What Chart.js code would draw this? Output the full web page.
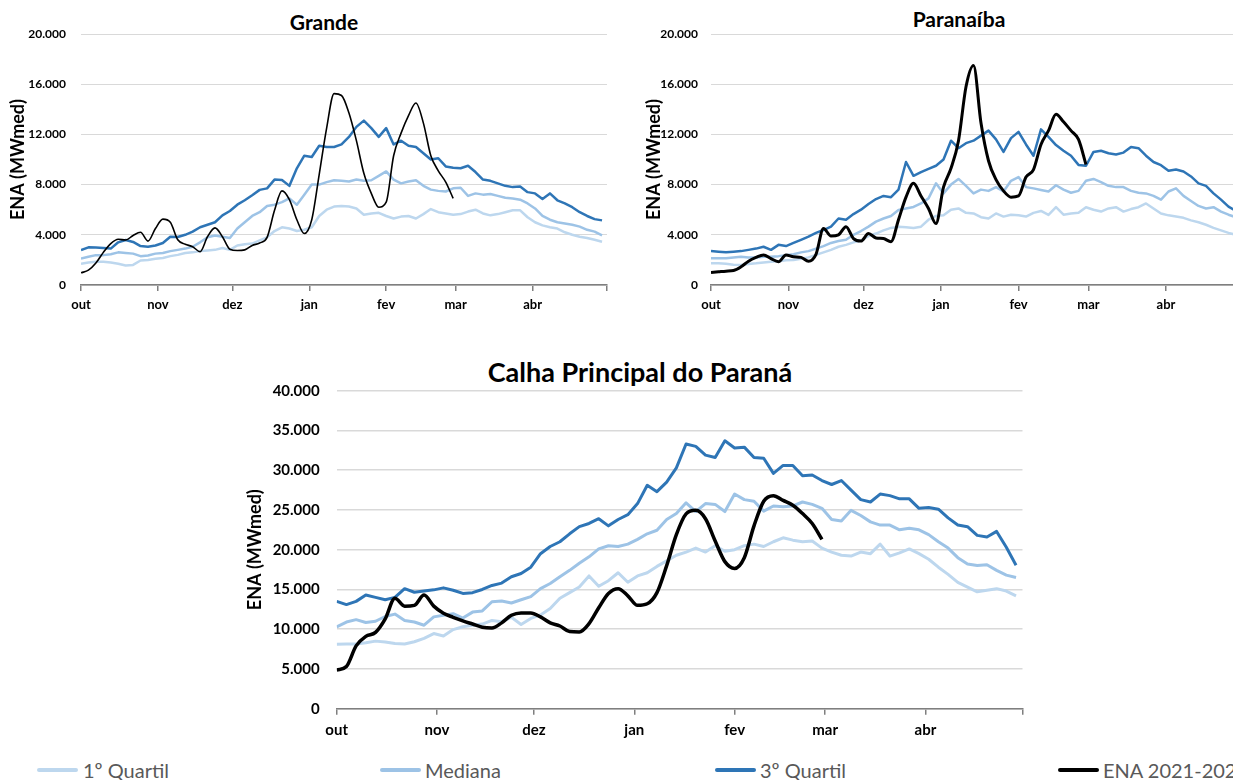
<!DOCTYPE html>
<html lang="pt-BR">
<head>
<meta charset="utf-8">
<title>ENA - Grande, Paranaíba e Calha Principal do Paraná</title>
<script src="https://cdn.jsdelivr.net/npm/chart.js@4/dist/chart.umd.min.js"></script>
<style>
  html, body { margin: 0; padding: 0; background: #fff; }
  body { width: 1233px; height: 780px; overflow: hidden; position: relative; font-family: Lato, 'Open Sans', sans-serif; }
  canvas { position: absolute; }
  .titulo { position: absolute; font-weight: bold; color: #000; white-space: nowrap; line-height: 1; transform: translateX(-50%); }
  .item { position: absolute; top: 760px; font-size: 20px; line-height: 1; color: #595959; white-space: nowrap; }
  .traco { position: absolute; top: 768px; width: 41px; height: 4px; border-radius: 2px; }
</style>
</head>
<body>

<div class="titulo" style="left:324px; top:11px; font-size:21px;">Grande</div>
<div class="titulo" style="left:959px; top:8px; font-size:21px;">Paranaíba</div>
<div class="titulo" style="left:640px; top:357.5px; font-size:27px;">Calha Principal do Paraná</div>

<canvas id="grande" width="620" height="320" style="left:0; top:0;"></canvas>
<canvas id="paranaiba" width="620" height="320" style="left:634px; top:0;"></canvas>
<canvas id="calha" width="810" height="410" style="left:230px; top:345px;"></canvas>

<span class="traco" style="left:37px; background:#bdd7ee;"></span><span class="item" style="left:83px;">1º Quartil</span>
<span class="traco" style="left:380px; background:#9dc3e6;"></span><span class="item" style="left:425px;">Mediana</span>
<span class="traco" style="left:715px; background:#2e75b6;"></span><span class="item" style="left:760px;">3º Quartil</span>
<span class="traco" style="left:1058px; background:#000;"></span><span class="item" style="left:1103px;">ENA 2021-2022</span>

<script>
// dias contados a partir de 1º de outubro
const dias = [0,3,6,9,12,15,18,21,24,27,30,33,36,39,42,45,48,51,54,57,60,63,66,69,72,75,78,81,84,87,
    90,93,96,99,102,105,108,111,114,117,120,123,126,129,132,135,138,141,144,147,150,153,156,159,162,165,168,171,174,177,
    180,183,186,189,192,195,198,201,204,207,210];
const meses = ['out', 'nov', 'dez', 'jan', 'fev', 'mar', 'abr'];
const inicioMes = [0, 31, 61, 92, 123, 151, 182, 212];

// Grande
const grandeQ1 = [1700,1800,1850,1850,1800,1700,1550,1600,1950,2000,
    2100,2150,2300,2400,2550,2600,2700,2750,2800,2950,
    2800,3150,3250,3300,3550,3800,4300,4600,4500,4300,
    4400,4600,5500,6000,6250,6300,6250,6100,5600,5700,
    5750,5500,5300,5450,5500,5300,5650,6050,5800,5700,
    5600,5650,5850,6000,5700,5550,5650,5800,5950,5950,
    5400,5000,4750,4600,4500,4200,4000,3850,3750,3600,3450];
const grandeMediana = [2100,2250,2380,2380,2450,2600,2550,2500,2300,2350,
    2500,2550,2700,2800,2900,3050,3400,3800,3950,3850,
    3750,4500,5000,5500,5800,6300,6400,6600,6900,6400,
    7200,8000,8000,8200,8350,8300,8250,8400,8300,8350,
    8700,9050,8400,8100,8250,8350,7900,7600,7500,7450,
    7700,7750,7100,7300,7200,7250,7100,6950,6900,6800,
    6500,6100,5500,5200,5000,4900,4800,4650,4400,4250,3950];
const grandeQ3 = [2780,3000,2980,2950,2900,3400,3580,3430,3100,3050,
    3150,3350,3850,3830,4000,4250,4600,4800,5000,5550,
    5900,6400,6750,7150,7580,7700,8400,8370,7900,9300,
    10300,10200,11100,11000,11000,11200,11800,12600,13100,12500,
    11800,12500,11200,11500,11100,11000,10500,10000,10100,9450,
    9350,9300,9500,9000,8400,8300,8100,7900,7800,7850,
    7400,7300,6850,7300,6750,6500,6200,5800,5500,5250,5150];
const grandeENA = [970,1180,1750,2600,3300,3650,3580,3950,4200,3500,
    4500,5250,5000,3600,3250,3050,2650,3850,4550,3850,
    2850,2750,2800,3150,3350,3800,5950,7500,6800,5200,
    4100,5200,8800,12500,15250,15100,13700,11500,8900,7300,
    6200,6600,10300,12100,13500,14500,12900,10300,9100,8200,6900];

// Paranaíba
const paranaibaQ1 = [1730,1730,1700,1620,1600,1680,1730,1800,1860,1900,
    1980,2000,2100,2200,2400,2600,2800,3050,3200,3400,
    3550,3900,4100,4350,4550,4650,4600,4550,4650,5200,
    5500,5550,6000,6100,5750,5700,5400,5300,5700,5450,
    5600,5550,5450,5750,5900,5580,6200,5600,5700,5750,
    6200,6000,5850,6100,6200,5850,6050,6200,6500,6100,
    5700,5550,5450,5350,5150,5000,4800,4550,4350,4150,4000];
const paranaibaMediana = [2130,2130,2130,2200,2250,2200,2200,2250,2260,2300,
    2380,2450,2600,2700,2900,3100,3350,3500,3600,4000,
    4300,4650,5050,5300,5500,5980,6100,6220,6500,6900,
    8100,7300,8000,8450,7900,7300,7600,7500,7800,7450,
    8300,8600,7800,7700,7570,7450,7950,7600,7350,7500,
    8300,8450,8200,7900,7800,7800,7500,7350,7300,7100,
    6800,7450,7700,7100,6700,6300,6100,6200,5850,5600,5400];
const paranaibaQ3 = [2700,2650,2600,2650,2700,2800,2900,3050,2800,3200,
    3100,3350,3600,3850,4150,4380,4650,5300,5200,5650,
    6000,6450,6850,7100,7000,7600,9800,8700,9000,9250,
    9500,10000,11500,10900,11300,11500,11900,12300,11600,10600,
    11700,12200,11200,10300,12400,11800,11150,10700,10300,9570,
    9500,10600,10700,10500,10400,10550,11000,10900,10300,9800,
    9550,9100,9200,9050,8650,8100,7900,7300,6800,6250,5900];
const paranaibaENA = [1000,1050,1100,1150,1450,1900,2200,2400,2100,1850,
    2400,2250,2200,1900,2450,4500,3900,4000,4650,3700,
    3500,4100,3750,3700,3450,5200,7000,8100,7100,6100,
    4900,7800,9300,11500,15800,17500,12900,9900,8400,7500,
    7000,7100,8600,9200,11200,12300,13600,13000,12300,11600,9600];

// Calha Principal do Paraná
const calhaQ1 = [8100,8150,8150,8300,8500,8400,8200,8130,8420,8850,
    9450,9150,9950,10300,10500,10650,11100,10950,11500,10600,
    11350,11800,12600,13900,14600,15300,16700,15400,16100,17100,
    15900,16700,17100,17900,18600,19300,19700,20200,19700,20500,
    19800,20000,20500,20700,20400,21000,21500,21200,21000,21100,
    20200,19700,19300,19200,19700,19500,20700,19200,19600,20100,
    19500,18800,17800,16900,15900,15300,14700,14900,15100,14800,14200];
const calhaMediana = [10300,10900,11200,10850,11000,11600,11900,11100,10900,10500,
    11550,11750,11950,11400,12150,12300,13450,13550,13300,13700,
    14100,15100,15750,16600,17400,18300,19100,20100,20500,20400,
    20700,21300,22000,22450,23800,24550,25900,24800,25800,25700,
    24800,27000,26300,26100,24850,25500,25400,25500,26000,25700,
    25200,23800,23600,24950,24300,23500,23100,23100,22500,22700,
    22500,21900,21000,20200,19000,18200,18000,18100,17400,16800,16500];
const calhaQ3 = [13500,13100,13500,14300,14000,13700,14000,15100,14650,14800,
    14950,15200,14900,14500,14600,15000,15500,15800,16600,17000,
    17800,19500,20400,21000,22000,22900,23300,23900,23000,23800,
    24400,25800,28100,27300,28500,30300,33300,33000,31900,31600,
    33700,32800,32900,31600,31500,29600,30600,30600,29300,29400,
    28700,28200,28700,27500,26300,26000,27000,26800,26400,26400,
    25200,25300,25100,24000,23100,22900,21800,21600,22300,20300,18050];
const calhaENA = [4850,5300,7900,9100,9600,11300,13900,12900,13000,14300,
    12900,12000,11500,11050,10650,10250,10150,10800,11750,12050,
    12050,11550,10800,10400,9700,9650,10700,12700,14500,15100,
    14200,13000,13200,14600,18000,21900,24500,24950,23900,21100,
    18500,17650,19000,23000,26100,26800,26200,25600,24550,23300,21300];

const cores = { q1: '#bdd7ee', med: '#9dc3e6', q3: '#2e75b6', ena: '#000000' };
const fonte = 'Lato, "Open Sans", sans-serif';

function pontos(serie) {
    return serie.map((v, i) => ({ x: dias[i], y: v }));
}

function milhar(v) {
    return String(v).replace(/\B(?=(\d{3})+(?!\d))/g, '.');
}

function criarGrafico(id, s) {
    const ctx = document.getElementById(id).getContext('2d');
    return new Chart(ctx, {
        type: 'line',
        data: {
            datasets: [
                { label: 'ENA 2021-2022', data: pontos(s.ena), borderColor: cores.ena, borderWidth: s.larguraENA, cubicInterpolationMode: 'monotone', order: 0 },
                { label: '3º Quartil', data: pontos(s.q3), borderColor: cores.q3, borderWidth: s.largura, order: 1 },
                { label: 'Mediana', data: pontos(s.mediana), borderColor: cores.med, borderWidth: s.largura, order: 2 },
                { label: '1º Quartil', data: pontos(s.q1), borderColor: cores.q1, borderWidth: s.largura, order: 3 }
            ]
        },
        options: {
            responsive: false,
            devicePixelRatio: 1,
            animation: false,
            events: [],
            layout: { padding: s.padding },
            elements: {
                point: { radius: 0, hoverRadius: 0 },
                line: { tension: 0, borderJoinStyle: 'round', fill: false }
            },
            plugins: {
                legend: { display: false },
                tooltip: { enabled: false }
            },
            scales: {
                x: {
                    type: 'linear',
                    min: 0,
                    max: 212,
                    afterBuildTicks: axis => { axis.ticks = inicioMes.map(v => ({ value: v })); },
                    afterFit: axis => { axis.height = s.alturaX; },
                    grid: { drawOnChartArea: false, drawTicks: true, tickLength: 6, color: '#7f7f7f', lineWidth: 1.5 },
                    border: { display: true, color: '#7f7f7f', width: 1.5 },
                    ticks: {
                        autoSkip: false,
                        maxRotation: 0,
                        padding: s.padX,
                        color: '#000',
                        font: { family: fonte, size: s.fonteX, weight: 'bold' },
                        callback: v => {
                            const i = inicioMes.indexOf(v);
                            return i >= 0 && i < meses.length ? meses[i] : '';
                        }
                    }
                },
                y: {
                    min: 0,
                    max: s.maxY,
                    afterFit: axis => { axis.width = s.larguraY; },
                    grid: { color: '#d9d9d9', lineWidth: s.grade, drawTicks: false },
                    border: { display: false },
                    ticks: {
                        stepSize: s.passoY,
                        padding: s.padY,
                        color: '#000',
                        font: { family: fonte, size: s.fonteY, weight: 'bold' },
                        callback: v => milhar(v)
                    },
                    title: {
                        display: true,
                        text: 'ENA (MWmed)',
                        color: '#000',
                        font: { family: fonte, size: 18, weight: 'bold' },
                        padding: { top: s.padTitulo, bottom: 0 }
                    }
                }
            }
        }
    });
}

criarGrafico('grande', {
    q1: grandeQ1, mediana: grandeMediana, q3: grandeQ3, ena: grandeENA,
    largura: 2.5, larguraENA: 1.6, grade: 1,
    maxY: 20000, passoY: 4000,
    padding: { top: 34, left: 0, right: 13, bottom: 0 },
    larguraY: 81, padY: 15, fonteY: 12, padTitulo: 7,
    alturaX: 35, padX: 6, fonteX: 13
});

criarGrafico('paranaiba', {
    q1: paranaibaQ1, mediana: paranaibaMediana, q3: paranaibaQ3, ena: paranaibaENA,
    largura: 2.5, larguraENA: 3, grade: 1,
    maxY: 20000, passoY: 4000,
    padding: { top: 34, left: 0, right: 13, bottom: 0 },
    larguraY: 77, padY: 13, fonteY: 12, padTitulo: 9,
    alturaX: 35, padX: 6, fonteX: 13
});

criarGrafico('calha', {
    q1: calhaQ1, mediana: calhaMediana, q3: calhaQ3, ena: calhaENA,
    largura: 3, larguraENA: 3.5, grade: 1.5,
    maxY: 40000, passoY: 5000,
    padding: { top: 45.7, left: 0, right: 17.5, bottom: 0 },
    larguraY: 106.7, padY: 17, fonteY: 15, padTitulo: 14,
    alturaX: 46.3, padX: 6.3, fonteX: 15
});
</script>
</body>
</html>
